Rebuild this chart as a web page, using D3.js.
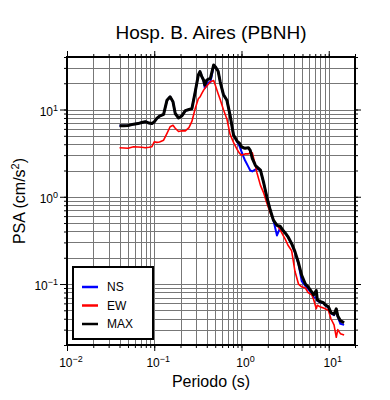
<!DOCTYPE html>
<html>
<head>
<meta charset="utf-8">
<title>Hosp. B. Aires (PBNH)</title>
<script src="https://cdn.jsdelivr.net/npm/d3@7"></script>
<style>
    body { margin: 0; background: #fff; }
    svg { font-family: 'Liberation Sans', Arial, sans-serif; }
</style>
</head>
<body>
<svg id="chart" width="390" height="400"></svg>
<script>
// Periods (s) and spectral values (cm/s2)
var periods = [0.04, 0.045, 0.05, 0.058, 0.065, 0.072, 0.079, 0.087, 0.094, 0.1,
    0.107, 0.115, 0.128, 0.14, 0.152, 0.164, 0.174, 0.19, 0.208, 0.227,
    0.25, 0.27, 0.295, 0.32, 0.334, 0.35, 0.367, 0.38, 0.4, 0.42,
    0.44, 0.48, 0.5, 0.54, 0.57, 0.62, 0.68, 0.74, 0.81, 0.89,
    0.95, 1.0, 1.05, 1.1, 1.2, 1.26, 1.33, 1.44, 1.5, 1.65,
    1.8, 1.95, 2.14, 2.32, 2.55, 2.77, 3.0, 3.2, 3.4, 3.76,
    4.1, 4.5, 4.9, 5.4, 5.8, 6.4, 6.7, 7.2, 7.4, 7.9,
    8.7, 9.1, 9.9, 10.6, 11.5, 12.2, 12.7, 13.6, 15];

var maxv = [6.5, 6.5, 6.55, 6.8, 6.9, 7.1, 7.25, 7.0, 6.9, 7.2,
    7.9, 8.4, 8.8, 12.8, 14, 12.3, 9.0, 8.0, 8.5, 9.7,
    10.0, 10.2, 16, 24.9, 27.2, 24, 21.8, 19.1, 21.8, 22.3,
    22.8, 32.4, 31, 27.5, 20.8, 14.9, 12.8, 8.6, 5.1, 4.35,
    4.1, 3.74, 3.65, 3.6, 3.65, 3.4, 2.75, 2.3, 2.2, 2.02,
    1.43, 1.0, 0.70, 0.54, 0.47, 0.46, 0.41, 0.38, 0.35, 0.29,
    0.235, 0.175, 0.126, 0.10, 0.093, 0.081, 0.075, 0.084, 0.066, 0.063,
    0.061, 0.058, 0.055, 0.047, 0.045, 0.052, 0.043, 0.038, 0.036];

var ns = [6.5, 6.5, 6.55, 6.8, 6.9, 7.1, 7.25, 7.0, 6.9, 7.2,
    7.9, 8.4, 8.8, 12.8, 14, 12.3, 9.0, 8.0, 8.5, 9.7,
    10.0, 10.2, 16, 24.9, 27.2, 24, 21.8, 17.5, 19, 20.5,
    20.5, 31.5, 31, 27.5, 20.8, 14.9, 12.8, 8.6, 5.1, 4.3,
    3.8, 3.3, 2.9, 2.6, 2.2, 2.0, 1.95, 2.05, 2.1, 2.0,
    1.43, 1.0, 0.70, 0.54, 0.36, 0.44, 0.41, 0.38, 0.35, 0.29,
    0.23, 0.17, 0.108, 0.095, 0.088, 0.078, 0.07, 0.07, 0.064, 0.062,
    0.06, 0.057, 0.054, 0.046, 0.044, 0.05, 0.042, 0.035, 0.034];

var ew = [3.65, 3.62, 3.6, 3.75, 3.72, 3.7, 3.65, 3.7, 3.75, 4.27,
    4.2, 4.25, 4.45, 5.33, 6.35, 6.6, 6.1, 5.6, 5.7, 5.7,
    6.2, 7.3, 10.3, 13.3, 13.9, 15.2, 16.6, 17.5, 18.6, 19.6,
    20.8, 21.5, 19.1, 15.2, 13, 10, 7.8, 5.2, 4.2, 3.5,
    3.15, 3.0, 3.05, 3.1, 3.1, 3.2, 3.2, 2.3, 1.9, 1.35,
    1.1, 0.85, 0.65, 0.55, 0.47, 0.42, 0.36, 0.32, 0.28, 0.24,
    0.14, 0.10, 0.093, 0.09, 0.08, 0.075, 0.067, 0.052, 0.057, 0.055,
    0.053, 0.052, 0.05, 0.04, 0.034, 0.0245, 0.03, 0.027, 0.026];

var xTickExp = [-2, -1, 0, 1];
var yTickExp = [-1, 0, 1];
var seriesNames = ["NS", "EW", "MAX"];
var seriesColors = ["#0000ff", "#ff0000", "#000000"];
var seriesWidths = [2, 1.6, 3];

var margin = { top: 57, left: 67 },
    width = 288,
    height = 288;

var svg = d3.select("#chart");
var g = svg.append("g").attr("transform", `translate(${margin.left},${margin.top})`);

var x = d3.scaleLog().domain([0.01, 20]).range([0, width]);
var y = d3.scaleLog().domain([0.02, 40]).range([height, 0]);

// minor tick positions 1..9 in each decade inside the domain
function logTicks(scale) {
    var dom = scale.domain(), out = [];
    for (var e = Math.floor(Math.log10(dom[0])); e <= Math.ceil(Math.log10(dom[1])); e++) {
        for (var m = 1; m <= 9; m++) {
            var v = m * Math.pow(10, e);
            if (v >= dom[0] * 0.999 && v <= dom[1] * 1.001) out.push(+v.toPrecision(3));
        }
    }
    return out;
}
var xAll = logTicks(x), yAll = logTicks(y);
var xMajor = xTickExp.map(e => Math.pow(10, e));
var yMajor = yTickExp.map(e => Math.pow(10, e));

// grid
g.append("g").attr("class", "grid")
    .call(d3.axisBottom(x).tickValues(xAll).tickSize(height).tickFormat(""));
g.append("g").attr("class", "grid")
    .call(d3.axisLeft(y).tickValues(yAll).tickSize(-width).tickFormat(""));
g.selectAll(".grid .domain").remove();
g.selectAll(".grid line")
    .attr("stroke", "#777")
    .attr("stroke-width", 1)
    .attr("shape-rendering", "crispEdges");

// ticks on all four sides
function frameTicks(axis, vals, size, tr) {
    var a = g.append("g").attr("transform", tr)
        .call(axis.tickValues(vals).tickSize(size).tickFormat(""));
    a.select(".domain").remove();
    a.selectAll("line").attr("stroke", "#000").attr("stroke-width", 1);
}
frameTicks(d3.axisBottom(x), xAll, 3, `translate(0,${height})`);
frameTicks(d3.axisBottom(x), xMajor, 6, `translate(0,${height})`);
frameTicks(d3.axisTop(x), xAll, 3, "translate(0,0)");
frameTicks(d3.axisTop(x), xMajor, 6, "translate(0,0)");
frameTicks(d3.axisLeft(y), yAll, 3, "translate(0,0)");
frameTicks(d3.axisLeft(y), yMajor, 7, "translate(0,0)");
frameTicks(d3.axisRight(y), yAll, 3, `translate(${width},0)`);
frameTicks(d3.axisRight(y), yMajor, 6, `translate(${width},0)`);

// curves
var line = d3.line()
    .x(d => x(d[0]))
    .y(d => y(d[1]));
[ns, ew, maxv].forEach(function (vals, i) {
    g.append("path")
        .datum(periods.map((p, k) => [p, vals[k]]))
        .attr("fill", "none")
        .attr("stroke", seriesColors[i])
        .attr("stroke-width", seriesWidths[i])
        .attr("stroke-linejoin", "round")
        .attr("d", line);
});

// frame
g.append("rect")
    .attr("width", width).attr("height", height)
    .attr("fill", "none").attr("stroke", "#000").attr("stroke-width", 2);

// tick labels with superscript exponent
function powLabel(sel, e) {
    sel.append("tspan").text("10");
    sel.append("tspan").attr("dy", -5).style("font-size", "9px")
        .text(e < 0 ? "\u2212" + (-e) : e);
}
xTickExp.forEach(function (e) {
    var t = g.append("text")
        .attr("x", x(Math.pow(10, e)) + 4)
        .attr("y", height + 22)
        .attr("text-anchor", "middle")
        .style("font-size", "12px");
    powLabel(t, e);
});
yTickExp.forEach(function (e) {
    var t = g.append("text")
        .attr("x", -9)
        .attr("y", y(Math.pow(10, e)) + 6)
        .attr("text-anchor", "end")
        .style("font-size", "12px");
    powLabel(t, e);
});

// axis titles
g.append("text")
    .attr("x", width / 2).attr("y", height + 42)
    .attr("text-anchor", "middle")
    .style("font-size", "16px")
    .text("Periodo (s)");
var yl = g.append("text")
    .attr("transform", `translate(-42,${height / 2}) rotate(-90)`)
    .attr("text-anchor", "middle")
    .style("font-size", "16px");
yl.append("tspan").text("PSA (cm/s");
yl.append("tspan").attr("dy", -6).style("font-size", "11px").text("2");
yl.append("tspan").attr("dy", 6).text(")");

// title
svg.append("text")
    .attr("x", margin.left + width / 2).attr("y", 39)
    .attr("text-anchor", "middle")
    .style("font-size", "19px")
    .text("Hosp. B. Aires (PBNH)");

// legend
var lg = g.append("g").attr("transform", `translate(6,${210})`);
lg.append("rect")
    .attr("width", 80).attr("height", 72)
    .attr("fill", "#fff").attr("stroke", "#000").attr("stroke-width", 2);
seriesNames.forEach(function (name, i) {
    var yy = 20 + i * 18.5;
    lg.append("line")
        .attr("x1", 9).attr("x2", 25).attr("y1", yy).attr("y2", yy)
        .attr("stroke", seriesColors[i]).attr("stroke-width", 2.5);
    lg.append("text")
        .attr("x", 34).attr("y", yy + 4)
        .style("font-size", "12px")
        .text(name);
});
</script>
</body>
</html>
